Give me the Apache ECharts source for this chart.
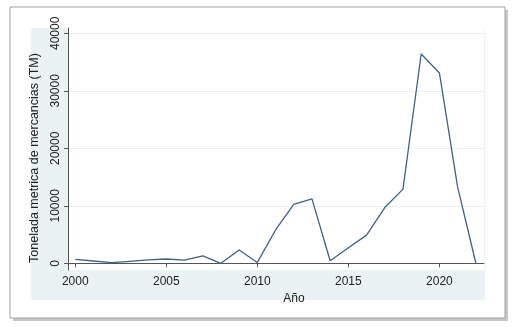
<!DOCTYPE html>
<html>
<head>
<meta charset="utf-8">
<script src="https://cdn.jsdelivr.net/npm/echarts@6/dist/echarts.min.js"></script>
<style>
  html, body { margin: 0; padding: 0; background: #fff; }
  #chart { width: 517px; height: 327px; }
</style>
</head>
<body>
<div id="chart"></div>
<script>
// años y toneladas
const years = [2000, 2001, 2002, 2003, 2004, 2005, 2006, 2007, 2008, 2009, 2010,
  2011, 2012, 2013, 2014, 2015, 2016, 2017, 2018, 2019, 2020, 2021, 2022];
const tons = [700, 400, 100, 350, 600, 750, 550, 1300, 0, 2300, 150,
  5800, 10250, 11200, 450, 2700, 4900, 9700, 12900, 36400, 33100, 13300, 50];
const yTicks = [0, 10000, 20000, 30000, 40000];
const xTicks = [2000, 2005, 2010, 2015, 2020];

const chart = echarts.init(document.getElementById("chart"));

const option = {
  backgroundColor: "#fff",
  animation: false,
  graphic: [
    // sombra del marco
    {
      type: "rect",
      shape: { x: 13, y: 10, width: 495, height: 311 },
      style: { fill: "#c8c8c8" },
      z: -10,
    },
    // marco
    {
      type: "rect",
      shape: { x: 10, y: 7, width: 495, height: 311 },
      style: { fill: "#fff", stroke: "#a0a0a0", lineWidth: 1 },
      z: -9,
    },
    // fondo del panel
    {
      type: "rect",
      shape: { x: 31, y: 28, width: 454, height: 272 },
      style: { fill: "#eaf2f3" },
      z: -8,
    },
  ],
  grid: {
    left: 68,
    right: 33,
    top: 28,
    bottom: 57,
    show: true,
    backgroundColor: "#fff",
    borderWidth: 0,
  },
  xAxis: {
    type: "value",
    min: 1999.6,
    max: 2022.45,
    name: "Año",
    nameLocation: "middle",
    nameGap: 17,
    nameTextStyle: { color: "#222", fontSize: 12, fontFamily: "Liberation Sans", padding: [0, 0, 0, 36] },
    axisLine: { show: true, lineStyle: { color: "#555", width: 1 } },
    axisTick: { show: true, length: 4, lineStyle: { color: "#555" }, customValues: xTicks },
    axisLabel: {
      color: "#222",
      fontSize: 12,
      fontFamily: "Liberation Sans",
      margin: 6,
      customValues: xTicks,
      formatter: (v) => String(v),
    },
    splitLine: { show: false },
  },
  yAxis: {
    type: "value",
    min: -1165,
    max: 40920,
    name: "Tonelada metrica de mercancias (TM)",
    nameLocation: "middle",
    nameGap: 27,
    nameTextStyle: { color: "#222", fontSize: 12.5, fontFamily: "Liberation Sans", padding: [0, 18, 0, 0] },
    axisLine: { show: true, lineStyle: { color: "#555", width: 1 } },
    axisTick: { show: true, length: 4, lineStyle: { color: "#555" }, customValues: yTicks },
    axisLabel: {
      color: "#222",
      fontSize: 12,
      fontFamily: "Liberation Sans",
      rotate: 90,
      margin: 6,
      customValues: yTicks,
      formatter: (v) => String(v),
    },
    splitLine: { show: true, lineStyle: { color: "#e6f0f2", width: 1 } },
  },
  series: [
    {
      type: "line",
      data: years.map((y, i) => [y, tons[i]]),
      showSymbol: false,
      lineStyle: { color: "#3f6186", width: 1.3 },
    },
  ],
};

chart.setOption(option);
</script>
</body>
</html>
